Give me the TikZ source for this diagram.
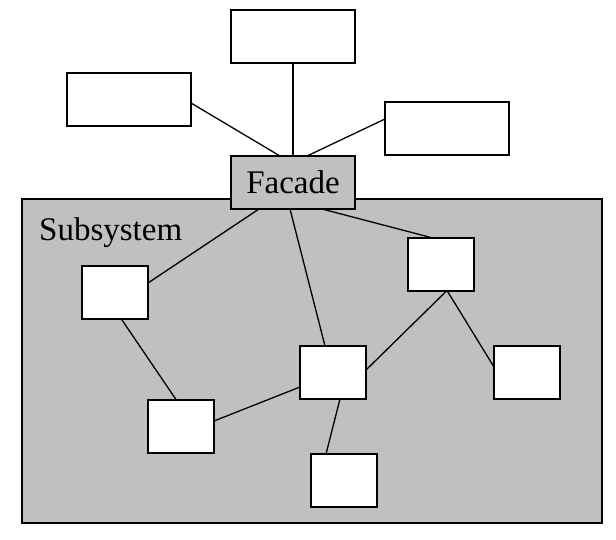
\documentclass[tikz,border=0pt]{standalone}
\usepackage{fontspec}
\setmainfont{Liberation Serif}
\usetikzlibrary{calc}
\definecolor{subgray}{HTML}{C0C0C0}
\begin{document}
\begin{tikzpicture}[x=1pt,y=-1pt,
  wide/.style={draw=black,line width=2pt,fill=white,minimum width=124pt,minimum height=53pt,inner sep=0pt,outer sep=0pt},
  small/.style={draw=black,line width=2pt,fill=white,minimum width=66pt,minimum height=53pt,inner sep=0pt,outer sep=0pt},
  link/.style={draw=black,line width=1.3pt},
  font=\fontsize{33}{40}\selectfont]
\useasboundingbox (0,0) rectangle (616,539);
\node[draw=black,line width=2.5pt,fill=subgray,minimum width=580pt,minimum height=324pt,inner sep=0pt,outer sep=0pt] (sub) at (312,361) {};
\node[anchor=base west,inner sep=0pt] (sublabel) at (39,240) {Subsystem};
\node[wide] (top) at (293,36.5) {};
\node[wide] (left) at (129,99.5) {};
\node[wide] (right) at (447,128) {};
\node[wide,fill=subgray] (facade) at (293,182.5) {Facade};
\node[small] (A) at (115,292) {};
\node[small] (B) at (181,426) {};
\node[small] (C) at (333,372.5) {};
\node[small] (D) at (441,264) {};
\node[small] (E) at (527,372.5) {};
\node[small] (F) at (343.5,480.5) {};
\draw[link] ($(left.east)+(0,3.5)$) -- ($(facade.north)+(-13,0)$);
\draw[link] (top.south) -- (facade.north);
\draw[link] ($(right.west)+(0,-9)$) -- ($(facade.north)+(14,0)$);
\draw[link] ($(facade.south)+(-34,0)$) -- ($(A.east)+(0,-9)$);
\draw[link] ($(facade.south)+(-3,0)$) -- ($(C.north)+(-8,0)$);
\draw[link] ($(facade.south)+(29,0)$) -- ($(D.north)+(-10,0)$);
\draw[link] ($(A.south)+(6,0)$) -- ($(B.north)+(-5,0)$);
\draw[link] ($(B.east)+(0,-5)$) -- ($(C.west)+(0,14.5)$);
\draw[link] ($(C.east)+(0,-2.5)$) -- ($(D.south)+(6,0)$);
\draw[link] ($(D.south)+(6,0)$) -- ($(E.west)+(0,-5.5)$);
\draw[link] ($(C.south)+(7,0)$) -- ($(F.north)+(-17.5,0)$);
\end{tikzpicture}
\end{document}
